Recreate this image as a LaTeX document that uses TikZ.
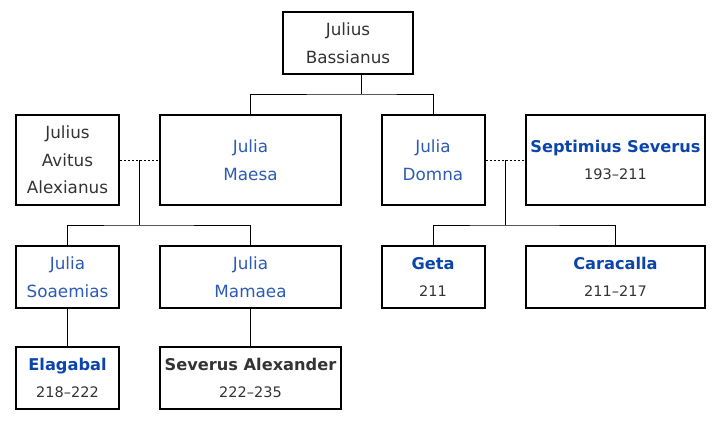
\documentclass[tikz,border=0pt]{standalone}
\usepackage{fontspec}
\setmainfont{DejaVu Sans}
\definecolor{linkblue}{HTML}{2B5BB5}
\definecolor{boldblue}{HTML}{0B45AB}
\definecolor{txt}{HTML}{333333}
\tikzset{
	box/.style={draw,line width=2pt,align=center,inner sep=0pt,text=txt,font=\fontsize{16.8}{27.5}\selectfont},
	narrow/.style={box,minimum width=103pt},
	wide/.style={box,minimum width=181pt},
	tall/.style={minimum height=90pt},
	low/.style={minimum height=62pt},
	marriage/.style={dash pattern=on 2pt off 2pt,line width=0.8pt},
	link/.style={line width=0.8pt}
}
\newcommand{\yrs}[1]{{\fontsize{14.5}{27.5}\selectfont #1}}
\newcommand{\emp}[2][boldblue]{{\fontsize{16.2}{27.5}\selectfont\bfseries\color{#1}#2}}
\begin{document}
\begin{tikzpicture}[x=1pt,y=-1pt]
		\useasboundingbox (0,0) rectangle (724,422);
		\node[box,low,minimum width=130pt] (bass) at (348,43) {Julius\\Bassianus};
		\node[narrow,tall] (avitus) at (67.5,160) {Julius\\Avitus\\Alexianus};
		\node[wide,tall,text=linkblue] (maesa) at (250.5,160) {Julia\\Maesa};
		\node[narrow,tall,text=linkblue] (domna) at (433,160) {Julia\\Domna};
		\node[wide,tall,minimum width=179pt] (septimius) at (615.5,160) {\emp{Septimius Severus}\\\yrs{193--211}};
		\node[narrow,low,text=linkblue] (soaemias) at (67.5,277) {Julia\\Soaemias};
		\node[wide,low,text=linkblue] (mamaea) at (250.5,277) {Julia\\Mamaea};
		\node[narrow,low] (geta) at (433,277) {\emp{Geta}\\\yrs{211}};
		\node[wide,low,minimum width=179pt] (caracalla) at (615.5,277) {\emp{Caracalla}\\\yrs{211--217}};
		\node[narrow,low] (elagabal) at (67.5,378) {\emp{Elagabal}\\\yrs{218--222}};
		\node[wide,low] (alexander) at (250.5,378) {\emp[txt]{Severus Alexander}\\\yrs{222--235}};
		\coordinate (top) at (361,94);
		\coordinate (m1) at (139,160);
		\coordinate (c1) at (139,225);
		\coordinate (m2) at (505,160);
		\coordinate (c2) at (505,225);
		\draw[link] (bass.south -| top) -- (top);
		\draw[link] (maesa.north) |- (top) -| (domna.north);
		\draw[marriage] (avitus.east) -- (maesa.west);
		\draw[marriage] (domna.east) -- (septimius.west);
		\draw[link] (m1) -- (c1);
		\draw[link] (soaemias.north) |- (c1) -| (mamaea.north);
		\draw[link] (m2) -- (c2);
		\draw[link] (geta.north) |- (c2) -| (caracalla.north);
		\draw[link] (soaemias.south) -- (elagabal.north);
		\draw[link] (mamaea.south) -- (alexander.north);
\end{tikzpicture}
\end{document}
